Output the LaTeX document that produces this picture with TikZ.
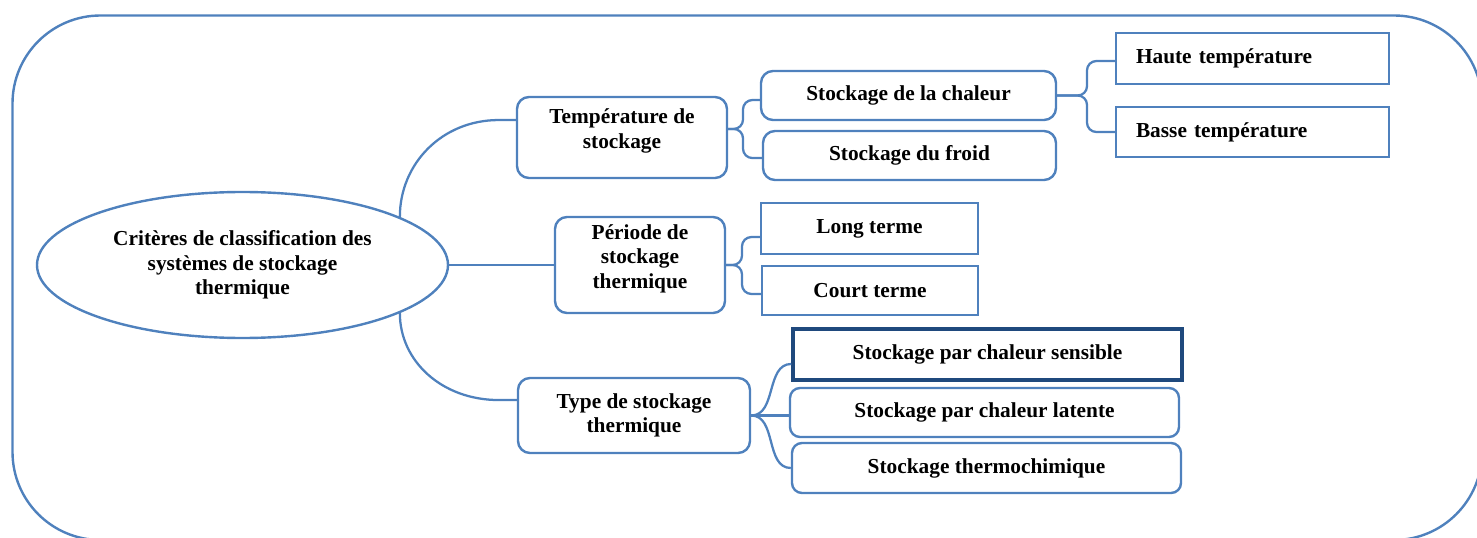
\documentclass[tikz,border=0pt]{standalone}
\usepackage{fontspec}
\setmainfont{Liberation Serif}
\usetikzlibrary{shapes.geometric,calc}
\definecolor{bl}{HTML}{4F81BD}
\definecolor{dbl}{HTML}{1F497D}
\begin{document}
\begin{tikzpicture}[x=0.75pt,y=-0.75pt,
  font=\fontsize{16}{18.5}\selectfont\bfseries,
  sz/.style 2 args={minimum width=#1*0.75pt, minimum height=#2*0.75pt},
  rbox/.style={draw=bl, line width=1.8pt, rounded corners=9pt, align=center, inner sep=0pt},
  sbox/.style={draw=bl, line width=1.8pt, align=center, inner sep=0pt},
  hbox/.style={draw=bl, line width=1.8pt, align=left, inner xsep=15pt, inner ysep=0pt, text width=174.75pt},
  dbox/.style={draw=dbl, line width=2.6pt, align=center, inner sep=0pt},
  conn/.style={draw=bl, line width=1.7pt},
  framebox/.style={draw=bl, line width=1.8pt, rounded corners=66pt},
  crit/.style={ellipse, draw=bl, line width=1.8pt, align=center, inner sep=0pt}]
\useasboundingbox (0,0) rectangle (1477,538);
\clip (0,0) rectangle (1477,538);
\draw[framebox] (12.5,15.5) rectangle (1482,540);

% nodes
\node[crit, sz={411}{146}] (crit) at (242.5,265) {Critères de classification des\\systèmes de stockage\\thermique};

\node[rbox, sz={210}{81}] (temp) at (622,137.5)
  {\raisebox{4.9pt}[\height][\depth]{\begin{tabular}{@{}c@{}}Température de\\stockage\end{tabular}}};
\node[rbox, sz={295}{49}] (chal) at (908.5,95.5) {Stockage de la chaleur};
\node[rbox, sz={293}{49}] (froid) at (909.5,155.5) {Stockage du froid};
\node[hbox, minimum height=38.25pt] (haute) at (1252.5,58.5) {Haute température};
\node[hbox, minimum height=37.5pt] (basse) at (1252.5,132) {Basse température};

\node[rbox, sz={170}{96}] (per) at (640,265)
  {\raisebox{4.5pt}[\height][\depth]{\begin{tabular}{@{}c@{}}Période de\\stockage\\thermique\end{tabular}}};
\node[sbox, sz={217}{51}] (long) at (869.5,228.5) {Long terme};
\node[sbox, sz={216}{49}] (court) at (870,290.5) {Court terme};

\node[rbox, sz={232}{75}] (type) at (634,415.5) {Type de stockage\\thermique};
\node[dbox, sz={389}{51}] (sens) at (987.5,354.5) {Stockage par chaleur sensible};
\node[rbox, rounded corners=7.5pt, sz={389}{49}] (lat) at (984.5,412.5) {Stockage par chaleur latente};
\node[rbox, rounded corners=7.5pt, sz={389}{50}] (thermo) at (986.5,468) {Stockage thermochimique};

% helper coordinates
\coordinate (tempin) at ([yshift=13.1pt]temp.west);
\coordinate (typein) at ([yshift=11.6pt]type.west);
\coordinate (temptip) at ([yshift=6.4pt]temp.east);
\coordinate (chalin) at ([yshift=-3.4pt]chal.west);
\coordinate (froidin) at ([yshift=-1.9pt]froid.west);
\coordinate (hautein) at ([yshift=-1.9pt]haute.west);
\coordinate (longin) at ([yshift=-6.4pt]long.west);
\coordinate (courtin) at ([yshift=-2.6pt]court.west);
\coordinate (sensin) at ([yshift=-7.1pt]sens.west);
\coordinate (b1) at (743,0);
\coordinate (b2) at (1087,0);
\coordinate (b3) at (742,0);

% connectors from the ellipse
\draw[conn] (crit.17) .. controls ($(crit.17)+(0,-53)$) and ($(tempin)+(-74,0)$) .. ($(tempin)+(-17,0)$) -- (tempin);
\draw[conn] (crit.east) -- (per.west);
\draw[conn] (crit.-17) .. controls ($(crit.-17)+(0,48)$) and ($(typein)+(-75,0)$) .. ($(typein)+(-18,0)$) -- (typein);

% braces
\draw[conn, rounded corners=7pt] (temptip) -| (b1 |- chalin) -- (chalin);
\draw[conn, rounded corners=7pt] (temptip) -| (b1 |- froidin) -- (froidin);
\draw[conn, rounded corners=7pt] (chal.east) -| (b2 |- hautein) -- (hautein);
\draw[conn, rounded corners=7pt] (chal.east) -| (b2 |- basse.west) -- (basse.west);
\draw[conn, rounded corners=7pt] (per.east) -| (b3 |- longin) -- (longin);
\draw[conn, rounded corners=7pt] (per.east) -| (b3 |- courtin) -- (courtin);
\draw[conn] (type.east) to[out=0,in=180] (sensin);
\draw[conn] (type.east) -- (type.east -| lat.west);
\draw[conn] (type.east) to[out=0,in=180] (thermo.west);
\end{tikzpicture}
\end{document}
